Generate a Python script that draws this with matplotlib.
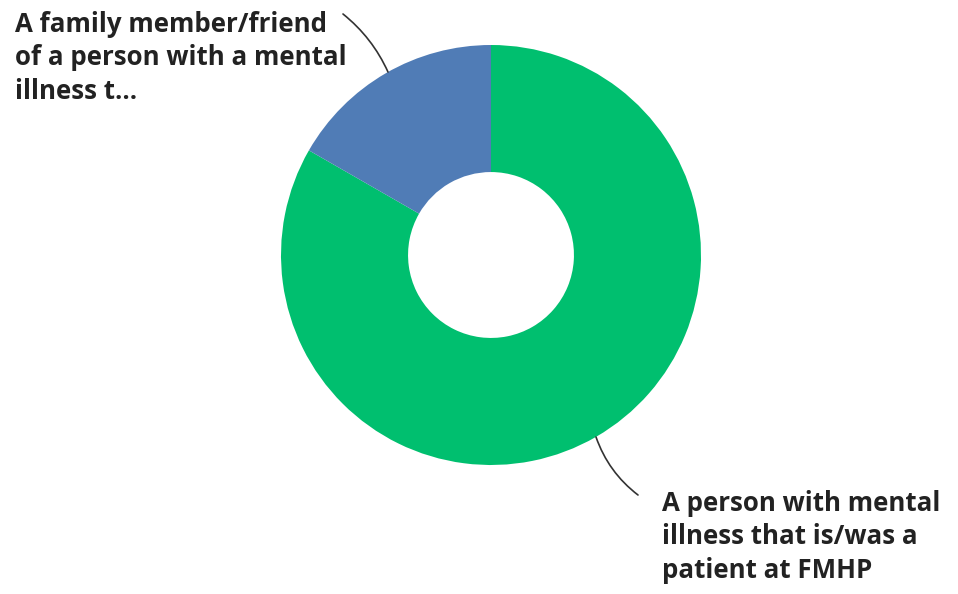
import matplotlib.pyplot as plt

labels = ["A person with mental\nillness that is/was a\npatient at FMHP",
          "A family member/friend\nof a person with a mental\nillness t..."]
values = [83.3, 16.7]
colors = ["#00BF6F", "#507CB6"]

W, H = 958, 594
fig = plt.figure(figsize=(W / 100, H / 100), dpi=100)
ax = fig.add_axes([0, 0, 1, 1])

cx, cy, r = 491, H - 255, 210
ax.pie(values, colors=colors, startangle=90, counterclock=False,
       center=(cx, cy), radius=r,
       wedgeprops=dict(width=r * 0.605, linewidth=0))

# pie() resets the limits, so set them afterwards
ax.set_xlim(0, W)
ax.set_ylim(0, H)
ax.set_aspect("equal")
ax.axis("off")

font = dict(family="Open Sans", weight="bold", size=18.6, color="#222222",
            linespacing=1.3)

# top-left label with leader line
ax.text(15, H - 11, labels[1], ha="left", va="top", **font)
ax.annotate("", xy=(388, H - 72), xytext=(343, H - 14),
            arrowprops=dict(arrowstyle="-", color="#333333", lw=1.2,
                            connectionstyle="arc3,rad=-0.12",
                            shrinkA=0, shrinkB=0))

# bottom-right label with leader line
ax.text(662, H - 490, labels[0], ha="left", va="top", **font)
ax.annotate("", xy=(638, H - 495), xytext=(596, H - 437),
            arrowprops=dict(arrowstyle="-", color="#333333", lw=1.2,
                            connectionstyle="arc3,rad=0.15",
                            shrinkA=0, shrinkB=0))

fig.savefig("out.png", dpi=100)
